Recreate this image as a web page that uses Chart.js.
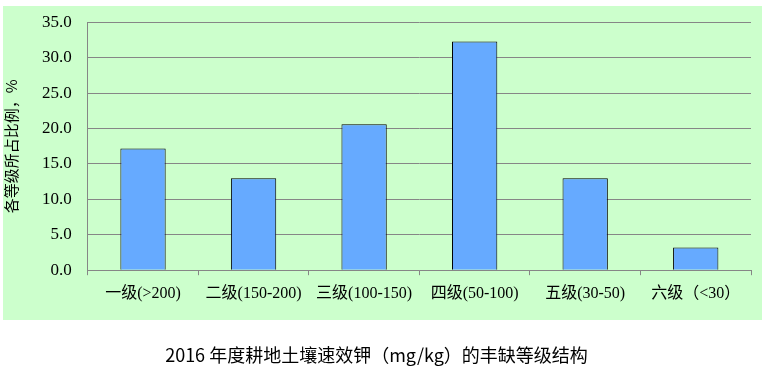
<!DOCTYPE html>
<html>
<head>
<meta charset="utf-8">
<script src="https://cdn.jsdelivr.net/npm/chart.js@4.4.0/dist/chart.umd.min.js"></script>
<style>
  html, body { margin: 0; padding: 0; background: #fff; }
  #wrap { width: 766px; height: 381px; }
</style>
</head>
<body>
<div id="wrap"><canvas id="potchart" width="766" height="381"></canvas></div>
<script>
const categories = ['一级(>200)', '二级(150-200)', '三级(100-150)', '四级(50-100)', '五级(30-50)', '六级（<30）'];
const shares = [17.2, 13.0, 20.6, 32.3, 13.0, 3.2];
const yTicks = [0, 5, 10, 15, 20, 25, 30, 35];

const serifFont = '"Liberation Serif", "Times New Roman", "Noto Sans CJK SC", serif';

// green plot backdrop like the spreadsheet chart
const backdrop = {
    id: 'backdrop',
    beforeDraw(chart) {
        const c = chart.ctx;
        c.save();
        c.fillStyle = '#ccffcc';
        c.fillRect(3, 6, 759, 314);
        c.restore();
    }
};

const ctx = document.getElementById('potchart').getContext('2d');
const potchart = new Chart(ctx, {
    type: 'bar',
    data: {
        labels: categories,
        datasets: [{
            label: '各等级所占比例',
            data: shares,
            backgroundColor: '#66aaff',
            borderColor: '#000000',
            borderWidth: 1,
            barPercentage: 0.41,
            categoryPercentage: 1.0
        }]
    },
    options: {
        responsive: false,
        animation: false,
        layout: { padding: { left: 2, right: 15, top: 10, bottom: 0 } },
        plugins: {
            legend: { display: false },
            tooltip: { enabled: false },
            title: {
                display: true,
                position: 'bottom',
                text: '2016 年度耕地土壤速效钾（mg/kg）的丰缺等级结构',
                color: '#000',
                font: { family: '"Noto Sans CJK SC", "Noto Sans", sans-serif', size: 18, weight: 'normal' },
                padding: { top: 32, bottom: 15 }
            }
        },
        scales: {
            x: {
                grid: {
                    offset: true,
                    drawOnChartArea: false,
                    drawTicks: true,
                    tickLength: 5,
                    color: '#868686'
                },
                border: { color: '#868686', width: 1 },
                ticks: {
                    color: '#000',
                    font: { family: serifFont, size: 16 },
                    maxRotation: 0,
                    autoSkip: false,
                    padding: 9
                }
            },
            y: {
                min: 0,
                max: 35,
                afterBuildTicks(axis) {
                    axis.ticks = yTicks.map(v => ({ value: v }));
                },
                grid: {
                    color: '#868686',
                    drawTicks: false
                },
                border: { color: '#868686', width: 1 },
                ticks: {
                    color: '#000',
                    font: { family: serifFont, size: 17, lineHeight: 0.75 },
                    padding: 16,
                    callback: v => Number(v).toFixed(1)
                },
                title: {
                    display: true,
                    text: '各等级所占比例，%',
                    color: '#000',
                    font: { family: '"Noto Sans CJK SC", serif', size: 15 },
                    padding: { top: 0, bottom: 6 }
                }
            }
        }
    },
    plugins: [backdrop]
});
</script>
</body>
</html>
